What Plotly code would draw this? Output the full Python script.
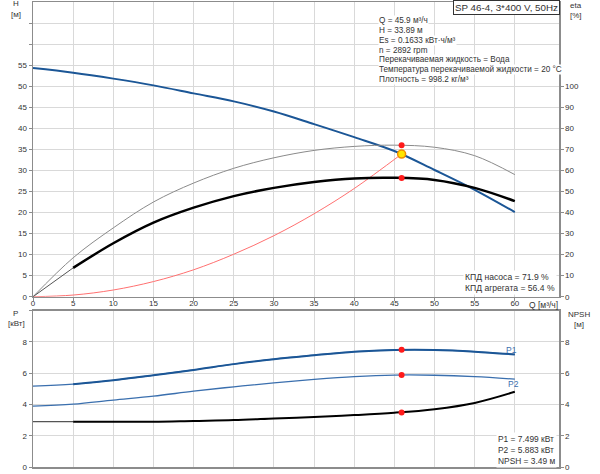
import plotly.graph_objects as go

# ---- data ----
Q = [0, 5, 10, 15, 20, 25, 30, 35, 40, 45, 50, 55, 60]
H = [54.3, 53.2, 51.8, 50.2, 48.3, 46.4, 44.0, 41.0, 37.9, 34.6, 30.1, 25.4, 20.1]
eta_pump = [0, 18.5, 32.7, 45.0, 54.0, 61.0, 66.0, 69.5, 71.4, 72.0, 71.0, 67.0, 58.0]
eta_total = [0, 13.7, 25.4, 35.2, 42.3, 47.8, 51.7, 54.5, 56.2, 56.5, 55.5, 51.7, 45.4]
Q_sys = [0, 5, 10, 15, 20, 25, 30, 35, 40, 45.9]
H_sys = [0, 0.4, 1.6, 3.6, 6.4, 10.1, 14.5, 19.7, 25.7, 33.89]
P1 = [5.17, 5.30, 5.55, 5.87, 6.21, 6.58, 6.90, 7.15, 7.38, 7.49, 7.49, 7.38, 7.20]
P2 = [3.90, 4.02, 4.28, 4.53, 4.85, 5.13, 5.38, 5.60, 5.78, 5.88, 5.87, 5.78, 5.62]
NPSH = [2.90, 2.90, 2.90, 2.90, 2.95, 3.00, 3.10, 3.20, 3.32, 3.47, 3.70, 4.10, 4.81]

Q_duty = 45.9
H_duty = 33.89
eta_pump_duty = 71.9
eta_total_duty = 56.4
P1_duty = 7.499
P2_duty = 5.883
NPSH_duty = 3.49

info_lines = [
    "Q = 45.9 м³/ч",
    "H = 33.89 м",
    "Es = 0.1633 кВт·ч/м³",
    "n = 2892 rpm",
    "Перекачиваемая жидкость = Вода",
    "Температура перекачиваемой жидкости = 20 °C",
    "Плотность = 998.2 кг/м³",
]

x_ticks = list(range(0, 65, 5))
H_ticks = list(range(0, 70, 5))
H_labels = [str(v) if v <= 55 else "" for v in H_ticks]
eta_ticks = list(range(0, 110, 10))
P_ticks = [0, 2, 4, 6, 8, 10]
P_labels = ["0", "2", "4", "6", "8", ""]
NPSH_ticks = [0, 2, 4, 6, 8]

BLUE = "#1b5696"
LBLUE = "#3a6fae"
GRID = "#d9d9d9"
AXIS = "#8c8c8c"
TXT = "#333333"
FONT = "Liberation Sans, Arial, sans-serif"

W, Hh = 600, 474
ML, MR, MT, MB = 33, 41, 0, 7
PW, PH = W - ML - MR, Hh - MT - MB


def px(xp):
    return (xp - ML) / PW


def py(yp):
    return (Hh - MB - yp) / PH


fig = go.Figure()

# top plot: pump efficiency (thin gray), total efficiency (black), system curve, H
fig.add_trace(go.Scatter(x=Q, y=eta_pump, yaxis="y3", xaxis="x", mode="lines",
                         line=dict(color="#8a8a8a", width=1, shape="spline"), hoverinfo="skip"))
fig.add_trace(go.Scatter(x=Q[:2], y=eta_total[:2], yaxis="y3", xaxis="x", mode="lines",
                         line=dict(color="#555555", width=1), hoverinfo="skip"))
fig.add_trace(go.Scatter(x=Q[1:], y=eta_total[1:], yaxis="y3", xaxis="x", mode="lines",
                         line=dict(color="#000000", width=2.5, shape="spline"), hoverinfo="skip"))
fig.add_trace(go.Scatter(x=Q_sys, y=H_sys, yaxis="y", xaxis="x", mode="lines",
                         line=dict(color="#ff7070", width=1, shape="spline"), hoverinfo="skip"))
fig.add_trace(go.Scatter(x=Q, y=H, yaxis="y", xaxis="x", mode="lines",
                         line=dict(color=BLUE, width=2, shape="spline"), hoverinfo="skip"))
fig.add_trace(go.Scatter(x=[Q_duty, Q_duty], y=[eta_pump_duty, eta_total_duty], yaxis="y3", xaxis="x",
                         mode="markers", marker=dict(color="#ff1a1a", size=6), hoverinfo="skip"))
fig.add_trace(go.Scatter(x=[Q_duty], y=[H_duty], yaxis="y", xaxis="x", mode="markers",
                         marker=dict(color="#ffe600", size=8, line=dict(color="#f08c00", width=1.5)),
                         hoverinfo="skip"))

# bottom plot: P1, P2, NPSH
fig.add_trace(go.Scatter(x=Q, y=P1, yaxis="y2", xaxis="x2", mode="lines",
                         line=dict(color=LBLUE, width=1.2, shape="spline"), hoverinfo="skip"))
fig.add_trace(go.Scatter(x=Q[1:], y=P1[1:], yaxis="y2", xaxis="x2", mode="lines",
                         line=dict(color=BLUE, width=2, shape="spline"), hoverinfo="skip"))
fig.add_trace(go.Scatter(x=Q, y=P2, yaxis="y2", xaxis="x2", mode="lines",
                         line=dict(color=LBLUE, width=1.3, shape="spline"), hoverinfo="skip"))
fig.add_trace(go.Scatter(x=Q[:2], y=NPSH[:2], yaxis="y4", xaxis="x2", mode="lines",
                         line=dict(color="#555555", width=1.2), hoverinfo="skip"))
fig.add_trace(go.Scatter(x=Q[1:], y=NPSH[1:], yaxis="y4", xaxis="x2", mode="lines",
                         line=dict(color="#000000", width=2, shape="spline"), hoverinfo="skip"))
fig.add_trace(go.Scatter(x=[Q_duty, Q_duty], y=[P1_duty, P2_duty], yaxis="y2", xaxis="x2",
                         mode="markers", marker=dict(color="#ff1a1a", size=6), hoverinfo="skip"))
fig.add_trace(go.Scatter(x=[Q_duty], y=[NPSH_duty], yaxis="y4", xaxis="x2",
                         mode="markers", marker=dict(color="#ff1a1a", size=6), hoverinfo="skip"))

top_dom = [(Hh - MB - 296) / PH, 1]
bot_dom = [0, (Hh - MB - 310) / PH]

axcommon = dict(showline=True, linecolor=AXIS, linewidth=1.5, mirror=True, zeroline=False,
                gridcolor=GRID, gridwidth=1, tickfont=dict(size=8, color=TXT, family=FONT),
                ticks="outside", ticklen=3, tickcolor=AXIS)

fig.update_layout(
    width=W, height=Hh, margin=dict(l=ML, r=MR, t=MT, b=MB),
    paper_bgcolor="white", plot_bgcolor="white", showlegend=False,
    font=dict(family=FONT, size=8, color=TXT),
    xaxis=dict(domain=[0, 1], anchor="y", range=[0, 65.5], tickvals=x_ticks,
               showticklabels=False, showgrid=True, **axcommon),
    yaxis=dict(domain=top_dom, anchor="x", range=[0, 70], tickvals=H_ticks, ticktext=H_labels,
               showgrid=True, **axcommon),
    yaxis3=dict(overlaying="y", side="right", anchor="x", range=[0, 140], tickvals=eta_ticks,
                showgrid=False, **axcommon),
    xaxis2=dict(domain=[0, 1], anchor="y2", side="top", range=[0, 65.5], tickvals=x_ticks,
                showgrid=True, **{**axcommon, "ticks": ""}),
    yaxis2=dict(domain=bot_dom, anchor="x2", range=[0, 10], tickvals=P_ticks, ticktext=P_labels,
                showgrid=True, **axcommon),
    yaxis4=dict(overlaying="y2", side="right", anchor="x2", range=[0, 10], tickvals=NPSH_ticks,
                showgrid=False, **axcommon),
)

ann = []


def add_text(x, y, text, xanchor="left", yanchor="middle", color=TXT, size=8, bg=None, border=None,
             align="left", pad=1):
    d = dict(x=px(x), y=py(y), xref="paper", yref="paper", text=text, showarrow=False,
             xanchor=xanchor, yanchor=yanchor, align=align, borderpad=pad,
             font=dict(size=size, color=color, family=FONT))
    if bg:
        d["bgcolor"] = bg
    if border:
        d["bordercolor"] = border
        d["borderwidth"] = 1
    ann.append(d)


add_text(560, 6, "SP 46-4, 3*400 V, 50Hz", xanchor="right", bg="white", border="#333333", size=9.8)
for i, line in enumerate(info_lines):
    add_text(378, 19 + 9.8 * i, line, xanchor="left", yanchor="middle", bg="white", size=8.2, pad=0)
add_text(557, 282, "КПД насоса = 71.9 %<br>КПД агрегата = 56.4 %", xanchor="right", bg="white",
         align="left", size=8.6)
add_text(557, 450, "P1 = 7.499 кВт<br>P2 = 5.883 кВт<br>NPSH = 3.49 м", xanchor="right", bg="white",
         align="left", size=8.4)

add_text(16, 2, "H", xanchor="center")
add_text(16, 13, "[м]", xanchor="center")
add_text(576, 4, "eta", xanchor="center")
add_text(576, 14, "[%]", xanchor="center")
add_text(15, 313, "P", xanchor="center")
add_text(16, 323, "[кВт]", xanchor="center")
add_text(579, 314, "NPSH", xanchor="center")
add_text(579, 324, "[м]", xanchor="center")
add_text(543, 304, "Q [м³/ч]", xanchor="center", size=8.5)
add_text(511, 349, "P1", xanchor="center", color=LBLUE, size=8.5)
add_text(513, 384, "P2", xanchor="center", color=LBLUE, size=8.5)

fig.update_layout(annotations=ann)
fig.write_html("out.html",
               config={"displayModeBar": False, "staticPlot": True},
               post_script="document.body.style.margin='0';document.body.style.padding='0';")
